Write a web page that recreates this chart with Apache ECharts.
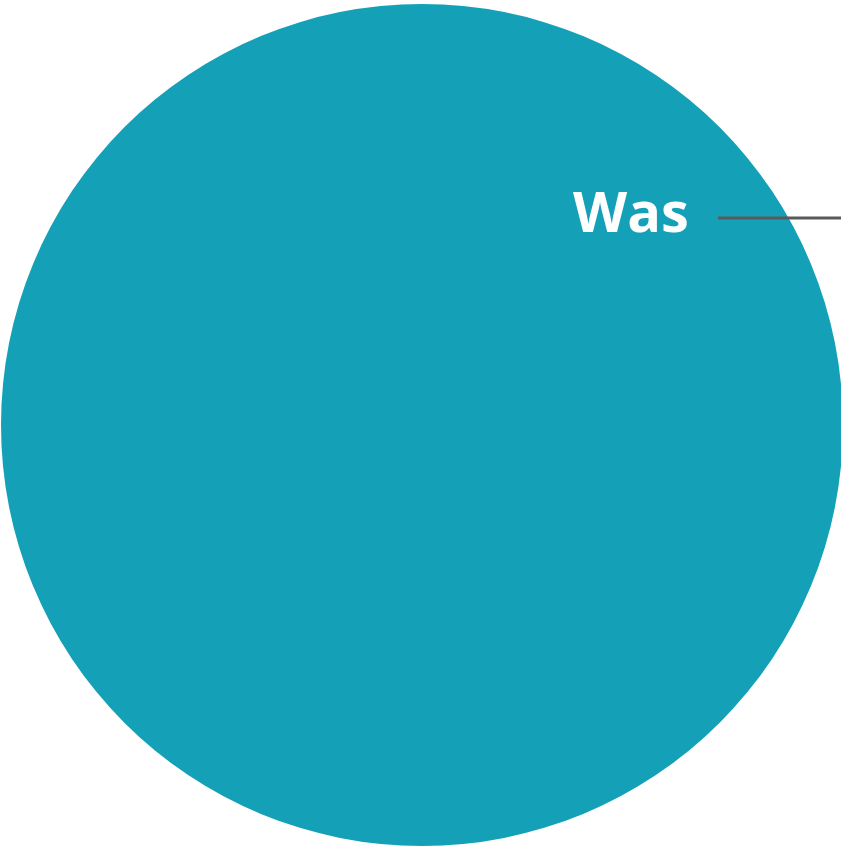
<!DOCTYPE html>
<html>
<head>
<meta charset="utf-8">
<style>
  html, body { margin: 0; padding: 0; background: #fff; }
  #chart { width: 841px; height: 848px; }
</style>
<script src="https://cdn.jsdelivr.net/npm/echarts@6/dist/echarts.min.js"></script>
</head>
<body>
<div id="chart"></div>
<script>
var categories = ['Was'];
var values = [100];

var chart = echarts.init(document.getElementById('chart'));

var option = {
  animation: false,
  series: [
    {
      type: 'pie',
      center: [422, 425],
      radius: [0, 421],
      startAngle: 225,
      silent: true,
      data: categories.map(function (c, i) {
        return { name: c, value: values[i] };
      }),
      itemStyle: {
        color: '#14A1B8'
      },
      label: {
        show: true,
        position: 'inside',
        formatter: '{b}',
        color: '#fff',
        fontFamily: 'Open Sans',
        fontWeight: 'bold',
        fontSize: 56
      },
      labelLayout: {
        x: 631,
        y: 216,
        align: 'center',
        verticalAlign: 'middle'
      },
      labelLine: { show: false }
    }
  ],
  graphic: [
    {
      type: 'line',
      z: 100,
      shape: { x1: 718, y1: 218, x2: 841, y2: 218 },
      style: { stroke: '#5a5a5a', lineWidth: 3 }
    }
  ]
};

chart.setOption(option);
</script>
</body>
</html>
